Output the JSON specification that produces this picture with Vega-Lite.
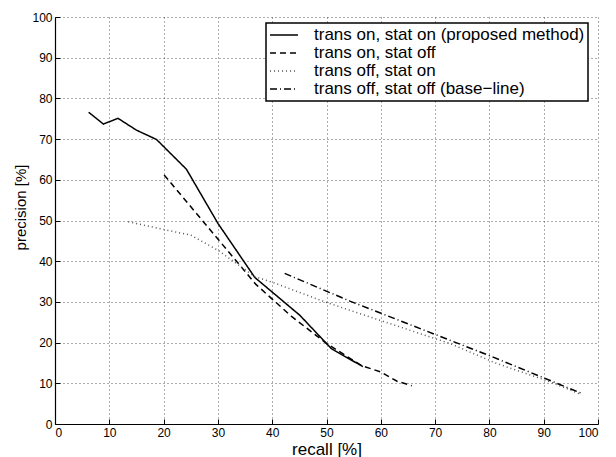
{
  "$schema": "https://vega.github.io/schema/vega-lite/v6.json",
  "width": 543,
  "height": 407,
  "autosize": {"type": "none"},
  "padding": {"left": 55, "top": 17, "right": 18, "bottom": 33},
  "background": "white",
  "config": {
    "font": "Liberation Sans",
    "view": {"stroke": null},
    "axis": {
      "labelFont": "Liberation Sans",
      "titleFont": "Liberation Sans",
      "labelFontSize": 12,
      "labelColor": "black",
      "titleColor": "black",
      "titleFontWeight": "normal",
      "domainColor": "black",
      "domainWidth": 1.2,
      "tickColor": "black",
      "tickSize": -5,
      "labelPadding": 8,
      "gridColor": "#333333",
      "gridDash": [1, 3],
      "gridWidth": 1,
      "gridOpacity": 0.8
    },
    "legend": {
      "title": null,
      "orient": "none",
      "legendX": 211,
      "legendY": 6,
      "strokeColor": "black",
      "strokeWidth": 1.5,
      "fillColor": "white",
      "padding": 3,
      "symbolType": "stroke",
      "symbolStrokeWidth": 1.5,
      "symbolSize": 784,
      "labelFont": "Liberation Sans",
      "labelFontSize": 17,
      "labelLimit": 500,
      "labelColor": "black",
      "labelOffset": 15,
      "rowPadding": 0,
      "clipHeight": 18
    }
  },
  "data": {
    "values": [
      {"series": "trans on, stat on (proposed method)", "recall": 6.2, "precision": 76.6},
      {"series": "trans on, stat on (proposed method)", "recall": 8.9, "precision": 73.7},
      {"series": "trans on, stat on (proposed method)", "recall": 11.6, "precision": 75.1},
      {"series": "trans on, stat on (proposed method)", "recall": 15.0, "precision": 72.2},
      {"series": "trans on, stat on (proposed method)", "recall": 18.7, "precision": 69.9},
      {"series": "trans on, stat on (proposed method)", "recall": 24.2, "precision": 62.6},
      {"series": "trans on, stat on (proposed method)", "recall": 30.0, "precision": 49.3},
      {"series": "trans on, stat on (proposed method)", "recall": 36.8, "precision": 36.0},
      {"series": "trans on, stat on (proposed method)", "recall": 45.1, "precision": 26.7},
      {"series": "trans on, stat on (proposed method)", "recall": 50.9, "precision": 18.5},
      {"series": "trans on, stat on (proposed method)", "recall": 56.7, "precision": 14.1},
      {"series": "trans on, stat off", "recall": 20.1, "precision": 61.2},
      {"series": "trans on, stat off", "recall": 37.0, "precision": 34.3},
      {"series": "trans on, stat off", "recall": 43.5, "precision": 26.5},
      {"series": "trans on, stat off", "recall": 50.0, "precision": 19.8},
      {"series": "trans on, stat off", "recall": 56.5, "precision": 14.3},
      {"series": "trans on, stat off", "recall": 60.0, "precision": 12.8},
      {"series": "trans on, stat off", "recall": 63.0, "precision": 10.5},
      {"series": "trans on, stat off", "recall": 65.7, "precision": 9.4},
      {"series": "trans off, stat on", "recall": 13.5, "precision": 49.7},
      {"series": "trans off, stat on", "recall": 20.0, "precision": 47.8},
      {"series": "trans off, stat on", "recall": 25.0, "precision": 46.4},
      {"series": "trans off, stat on", "recall": 30.0, "precision": 42.7},
      {"series": "trans off, stat on", "recall": 36.8, "precision": 36.2},
      {"series": "trans off, stat on", "recall": 40.5, "precision": 34.6},
      {"series": "trans off, stat on", "recall": 49.7, "precision": 30.0},
      {"series": "trans off, stat on", "recall": 61.6, "precision": 24.7},
      {"series": "trans off, stat on", "recall": 72.7, "precision": 19.8},
      {"series": "trans off, stat on", "recall": 81.3, "precision": 14.9},
      {"series": "trans off, stat on", "recall": 91.1, "precision": 10.4},
      {"series": "trans off, stat on", "recall": 96.8, "precision": 7.3},
      {"series": "trans off, stat off (base\u2212line)", "recall": 42.3, "precision": 37.0},
      {"series": "trans off, stat off (base\u2212line)", "recall": 54.3, "precision": 30.2},
      {"series": "trans off, stat off (base\u2212line)", "recall": 70.0, "precision": 22.0},
      {"series": "trans off, stat off (base\u2212line)", "recall": 80.0, "precision": 16.8},
      {"series": "trans off, stat off (base\u2212line)", "recall": 97.2, "precision": 7.4}
    ]
  },
  "mark": {"type": "line", "strokeWidth": 1.5},
  "encoding": {
    "x": {
      "field": "recall",
      "type": "quantitative",
      "scale": {"domain": [0, 100], "nice": false},
      "axis": {"title": "recall [%]", "values": [0, 10, 20, 30, 40, 50, 60, 70, 80, 90, 100], "titleFontSize": 17, "titlePadding": 3}
    },
    "y": {
      "field": "precision",
      "type": "quantitative",
      "scale": {"domain": [0, 100], "nice": false},
      "axis": {"title": "precision [%]", "values": [0, 10, 20, 30, 40, 50, 60, 70, 80, 90, 100], "titleFontSize": 15, "titleX": -27, "titleY": 190}
    },
    "color": {
      "field": "series",
      "type": "nominal",
      "sort": null,
      "scale": {
        "domain": ["trans on, stat on (proposed method)", "trans on, stat off", "trans off, stat on", "trans off, stat off (base\u2212line)"],
        "range": ["#000000", "#000000", "#555555", "#000000"]
      }
    },
    "strokeDash": {
      "field": "series",
      "type": "nominal",
      "sort": null,
      "scale": {
        "domain": ["trans on, stat on (proposed method)", "trans on, stat off", "trans off, stat on", "trans off, stat off (base\u2212line)"],
        "range": [[1, 0], [6, 4], [1, 3], [7, 3, 1, 3]]
      }
    }
  }
}
